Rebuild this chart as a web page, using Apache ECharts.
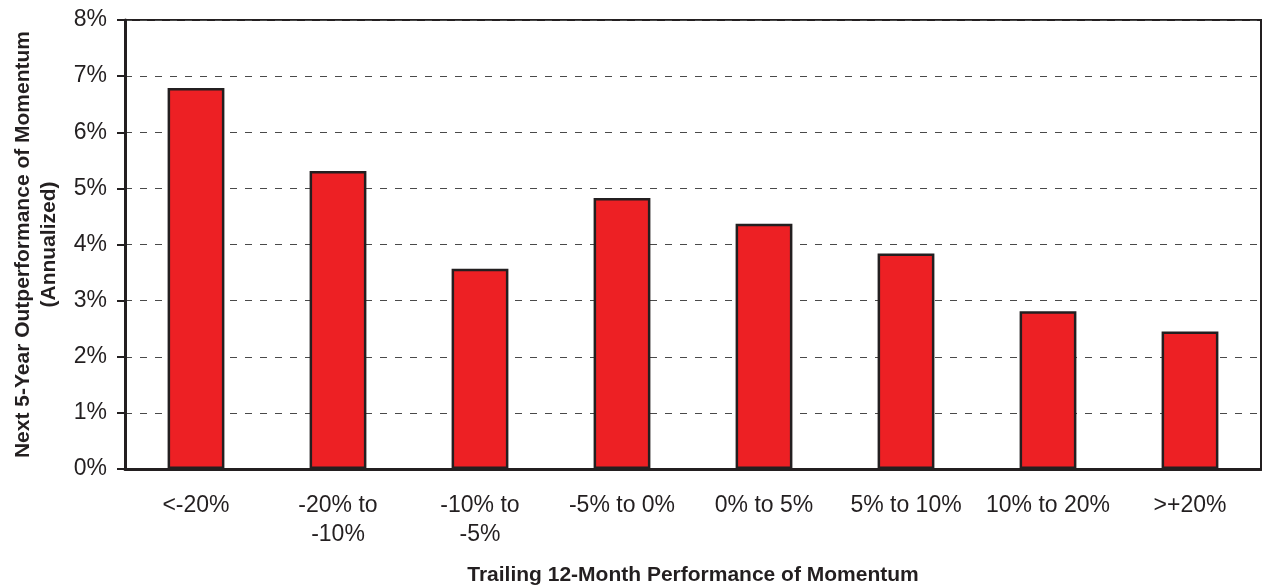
<!DOCTYPE html>
<html>
<head>
    <meta charset="utf-8">
    <title>Momentum</title>
    <script src="https://cdn.jsdelivr.net/npm/echarts@6/dist/echarts.min.js"></script>
    <style>
        html, body, #main {
            width: 100%;
            height: 100%;
            margin: 0;
            background: #fff;
        }
    </style>
</head>
<body>
    <div id="main"></div>
    <script type="text/javascript">
        var categories = ['<-20%', '-20% to\n-10%', '-10% to\n-5%', '-5% to 0%', '0% to 5%', '5% to 10%', '10% to 20%', '>+20%'];
        var values = [6.79, 5.31, 3.57, 4.83, 4.37, 3.84, 2.81, 2.45];
        var yTicks = [0, 1, 2, 3, 4, 5, 6, 7, 8];

        var ink = '#231f20';
        var font = 'Liberation Sans, Arial, sans-serif';

        var myChart = echarts.init(document.getElementById('main'));
        var option = {
            animation: false,
            grid: {
                left: 125, right: 1, top: 20, bottom: 119,
                containLabel: false, outerBoundsMode: 'none',
                show: true, borderColor: ink, borderWidth: 2
            },
            xAxis: {
                type: 'category',
                data: categories,
                name: 'Trailing 12-Month Performance of Momentum',
                nameLocation: 'middle',
                nameGap: 96,
                nameTextStyle: { fontFamily: font, fontSize: 21, fontWeight: 'bold', color: ink },
                axisLine: { lineStyle: { color: ink, width: 3 } },
                axisTick: { show: false },
                axisLabel: { fontFamily: font, fontSize: 23, color: ink, margin: 22, lineHeight: 29, interval: 0 }
            },
            yAxis: {
                type: 'value',
                min: yTicks[0],
                max: yTicks[yTicks.length - 1],
                interval: 1,
                name: 'Next 5-Year Outperformance of Momentum\n(Annualized)',
                nameLocation: 'middle',
                nameGap: 63,
                nameTextStyle: { fontFamily: font, fontSize: 21, fontWeight: 'bold', color: ink, lineHeight: 26 },
                axisLine: { show: true, lineStyle: { color: ink, width: 3 } },
                axisTick: { show: true, length: 8, lineStyle: { color: ink, width: 2 } },
                axisLabel: {
                    fontFamily: font, fontSize: 23, color: ink, margin: 18,
                    formatter: function (v) { return v + '%'; }
                },
                splitLine: { lineStyle: { color: '#4a4a4a', width: 1, type: [7, 8] } }
            },
            series: [{
                type: 'bar',
                data: values,
                barWidth: '40%',
                itemStyle: { color: '#ed2024', borderColor: ink, borderWidth: 2.5 }
            }]
        };
        myChart.setOption(option);
        window.onresize = myChart.resize;
    </script>
</body>
</html>
